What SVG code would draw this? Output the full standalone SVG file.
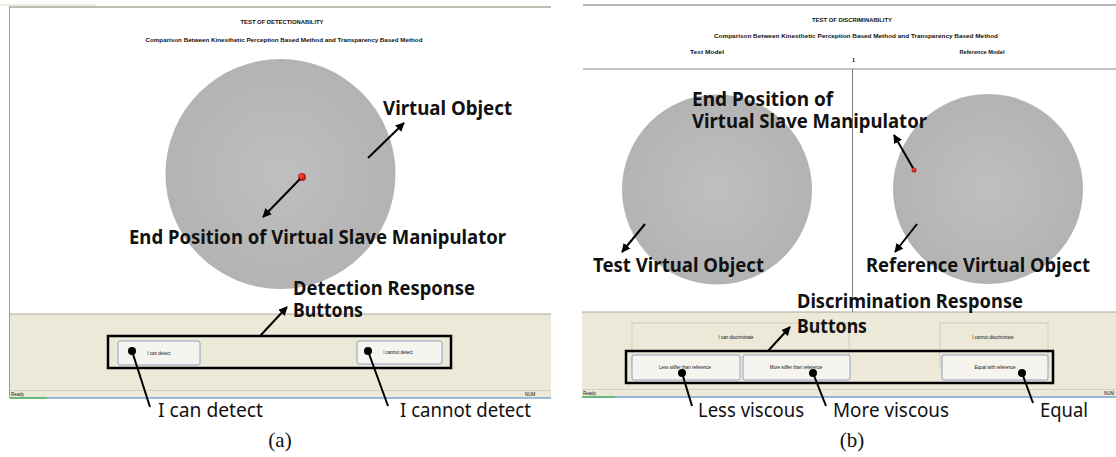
<svg xmlns="http://www.w3.org/2000/svg" width="1116" height="457" viewBox="0 0 1116 457">
<defs>
  <radialGradient id="ball" cx="50%" cy="50%" r="50%">
    <stop offset="0%" stop-color="#bfbfbf"/>
    <stop offset="100%" stop-color="#b3b3b3"/>
  </radialGradient>
  <radialGradient id="red" cx="40%" cy="40%" r="60%">
    <stop offset="0%" stop-color="#ff4a3a"/>
    <stop offset="100%" stop-color="#a81410"/>
  </radialGradient>
  <marker id="ah" viewBox="0 0 10 10" refX="9" refY="5" markerWidth="4.5" markerHeight="4.5" orient="auto" markerUnits="strokeWidth">
    <path d="M0,0 L10,5 L0,10 Z" fill="#000"/>
  </marker>
  <style>
    .ui { font-family: "Liberation Sans", Arial, sans-serif; fill: #111; }
    .uib { font-family: "Liberation Sans", Arial, sans-serif; font-weight: bold; fill: #111; }
    .ann { font-family: "Noto Sans", "Open Sans", sans-serif; font-weight: bold; font-size: 19px; fill: #111; }
    .lab { font-family: "Noto Sans", "Open Sans", sans-serif; font-size: 20px; fill: #111; }
    .cap { font-family: "Liberation Serif", "Times New Roman", serif; font-size: 21px; fill: #111; }
    .beige { fill: #ece9d8; }
    .btn { fill: #f5f4ef; stroke: #8ea2bf; stroke-width: 1; }
    .grp { fill: none; stroke: #cfcdbd; stroke-width: 1; }
    .frame { fill: none; stroke: #000; stroke-width: 2.5; }
    .con { stroke: #000; stroke-width: 2; fill: none; }
    .dot { fill: #000; }
  </style>
</defs>
<rect width="1116" height="457" fill="#ffffff"/>

<!-- Panel (a) -->
<g id="panel-a">
  <line x1="0" y1="5" x2="96" y2="5" stroke="#d8d6cc" stroke-width="1"/>
  <line x1="9" y1="7" x2="551" y2="7" stroke="#aca899" stroke-width="1.5"/>
  <line x1="9.5" y1="7" x2="9.5" y2="398" stroke="#9a9a9a" stroke-width="1"/>
  <text class="uib" x="282" y="24" font-size="5.5" text-anchor="middle" textLength="83" lengthAdjust="spacingAndGlyphs">TEST OF DETECTIONABILITY</text>
  <text class="uib" x="284" y="41.5" font-size="5.5" text-anchor="middle" textLength="277" lengthAdjust="spacingAndGlyphs">Comparison Between Kinesthetic Perception Based Method and Transparency Based Method</text>
  <rect class="beige" x="10" y="314" width="541" height="84"/>
  <line x1="10" y1="314" x2="551" y2="314" stroke="#aca899" stroke-width="1"/>
  <line x1="10" y1="390.5" x2="551" y2="390.5" stroke="#d4d0c8" stroke-width="1"/>
  <text class="ui" x="11" y="396" font-size="4.5">Ready</text>
  <text class="ui" x="525" y="396" font-size="4.5">NUM</text>
  <line x1="10" y1="398" x2="551" y2="398" stroke="#7aa6dc" stroke-width="1.5"/>
  <line x1="10" y1="398" x2="47" y2="398" stroke="#5cb85c" stroke-width="1.5"/>
</g>

<g id="virtual-object-a">
  <circle cx="280.5" cy="174" r="115" fill="url(#ball)"/>
  <circle cx="302" cy="177" r="4" fill="url(#red)"/>
</g>

<g id="detect-buttons">
  <rect class="btn" x="118" y="341" width="82" height="24" rx="2"/>
  <text class="ui" x="159" y="354.5" font-size="4.5" text-anchor="middle">I can detect</text>
  <rect class="btn" x="357" y="341" width="85" height="23" rx="2"/>
  <text class="ui" x="398" y="354" font-size="4.5" text-anchor="middle">I cannot detect</text>
  <rect class="frame" x="108" y="336" width="343" height="32"/>
</g>

<g id="labels-a">
  <text class="ann" x="383" y="115" textLength="129" lengthAdjust="spacingAndGlyphs">Virtual Object</text>
  <text class="ann" x="129" y="244" textLength="377" lengthAdjust="spacingAndGlyphs">End Position of Virtual Slave Manipulator</text>
  <text class="ann" x="293" y="295" textLength="182" lengthAdjust="spacingAndGlyphs">Detection Response</text>
  <text class="ann" x="293" y="317" textLength="70" lengthAdjust="spacingAndGlyphs">Buttons</text>
  <text class="lab" x="158" y="417" textLength="105" lengthAdjust="spacingAndGlyphs">I can detect</text>
  <text class="lab" x="400" y="417" textLength="131" lengthAdjust="spacingAndGlyphs">I cannot detect</text>
  <text class="cap" x="280" y="447" text-anchor="middle">(a)</text>
</g>

<!-- Panel (b) -->
<g id="panel-b">
  <line x1="583" y1="5" x2="1116" y2="5" stroke="#6e6e6e" stroke-width="1"/>
  <text class="uib" x="852" y="22" font-size="5.5" text-anchor="middle" textLength="80" lengthAdjust="spacingAndGlyphs">TEST OF DISCRIMINABILITY</text>
  <text class="uib" x="856" y="38" font-size="5.5" text-anchor="middle" textLength="284" lengthAdjust="spacingAndGlyphs">Comparison Between Kinesthetic Perception Based Method and Transparency Based Method</text>
  <text class="uib" x="707" y="54" font-size="5.5" text-anchor="middle" textLength="34" lengthAdjust="spacingAndGlyphs">Test Model</text>
  <text class="uib" x="982" y="54" font-size="5.5" text-anchor="middle" textLength="45" lengthAdjust="spacingAndGlyphs">Reference Model</text>
  <text class="uib" x="853.5" y="62" font-size="5.5" text-anchor="middle">1</text>
  <line x1="583" y1="69" x2="1116" y2="69" stroke="#8a8a8a" stroke-width="1"/>
  <line x1="852.5" y1="69" x2="852.5" y2="312" stroke="#7a7a7a" stroke-width="1"/>
  <rect class="beige" x="582" y="312" width="534" height="86"/>
  <line x1="582" y1="312" x2="1116" y2="312" stroke="#aca899" stroke-width="1"/>
  <line x1="582" y1="389.5" x2="1116" y2="389.5" stroke="#d4d0c8" stroke-width="1"/>
  <text class="ui" x="583" y="395" font-size="4.5">Ready</text>
  <text class="ui" x="1104" y="395" font-size="4.5">NUM</text>
  <line x1="582" y1="397" x2="1116" y2="397" stroke="#7aa6dc" stroke-width="1.5"/>
  <line x1="582" y1="397" x2="615" y2="397" stroke="#5cb85c" stroke-width="1.5"/>
</g>

<g id="test-object">
  <circle cx="717" cy="189.5" r="95" fill="url(#ball)"/>
</g>

<g id="reference-object">
  <circle cx="988" cy="189" r="95" fill="url(#ball)"/>
  <circle cx="914" cy="170" r="2.5" fill="url(#red)"/>
</g>

<g id="discriminate-buttons">
  <rect class="grp" x="632" y="323" width="217" height="45"/>
  <text class="ui" x="736" y="339" font-size="4.5" text-anchor="middle">I can discriminate</text>
  <rect class="grp" x="940" y="323" width="108" height="45"/>
  <text class="ui" x="993" y="339" font-size="4.5" text-anchor="middle">I cannot discriminate</text>
  <rect class="btn" x="632" y="355" width="108" height="25" rx="2"/>
  <text class="ui" x="685" y="369" font-size="4.5" text-anchor="middle">Less stiffer than reference</text>
  <rect class="btn" x="743" y="355" width="107" height="25" rx="2"/>
  <text class="ui" x="796" y="369" font-size="4.5" text-anchor="middle">More stiffer than reference</text>
  <rect class="btn" x="942" y="355" width="106" height="25" rx="2"/>
  <text class="ui" x="995" y="369" font-size="4.5" text-anchor="middle">Equal with reference</text>
  <rect class="frame" x="626" y="351" width="427" height="32"/>
</g>

<g id="labels-b">
  <text class="ann" x="692" y="106">End Position of</text>
  <text class="ann" x="692" y="128" textLength="235" lengthAdjust="spacingAndGlyphs">Virtual Slave Manipulator</text>
  <text class="ann" x="593" y="272" textLength="171" lengthAdjust="spacingAndGlyphs">Test Virtual Object</text>
  <text class="ann" x="866" y="272" textLength="224" lengthAdjust="spacingAndGlyphs">Reference Virtual Object</text>
  <text class="ann" x="797" y="308" textLength="226" lengthAdjust="spacingAndGlyphs">Discrimination Response</text>
  <text class="ann" x="797" y="333" textLength="70" lengthAdjust="spacingAndGlyphs">Buttons</text>
  <text class="lab" x="698" y="417" textLength="106" lengthAdjust="spacingAndGlyphs">Less viscous</text>
  <text class="lab" x="833" y="417" textLength="116" lengthAdjust="spacingAndGlyphs">More viscous</text>
  <text class="lab" x="1040" y="417" textLength="48" lengthAdjust="spacingAndGlyphs">Equal</text>
  <text class="cap" x="852" y="447" text-anchor="middle">(b)</text>
</g>

<g id="connectors">
  <line class="con" x1="368" y1="158" x2="404" y2="123" marker-end="url(#ah)"/>
  <line class="con" x1="300" y1="179" x2="263" y2="217" marker-end="url(#ah)"/>
  <line class="con" x1="260" y1="336" x2="287" y2="307" marker-end="url(#ah)"/>
  <circle class="dot" cx="132" cy="351" r="4"/>
  <line class="con" x1="132" y1="351" x2="150" y2="407"/>
  <circle class="dot" cx="368" cy="351" r="4"/>
  <line class="con" x1="368" y1="351" x2="388" y2="406"/>
  <line class="con" x1="913" y1="168" x2="894" y2="135" marker-end="url(#ah)"/>
  <line class="con" x1="645" y1="224" x2="622" y2="252" marker-end="url(#ah)"/>
  <line class="con" x1="917" y1="224" x2="895" y2="252" marker-end="url(#ah)"/>
  <line class="con" x1="768" y1="351" x2="790" y2="327" marker-end="url(#ah)"/>
  <circle class="dot" cx="682" cy="373" r="4"/>
  <line class="con" x1="682" y1="373" x2="692" y2="406"/>
  <circle class="dot" cx="813" cy="373" r="4"/>
  <line class="con" x1="813" y1="373" x2="826" y2="406"/>
  <circle class="dot" cx="1022" cy="373" r="4"/>
  <line class="con" x1="1022" y1="373" x2="1033" y2="403"/>
</g>
</svg>
